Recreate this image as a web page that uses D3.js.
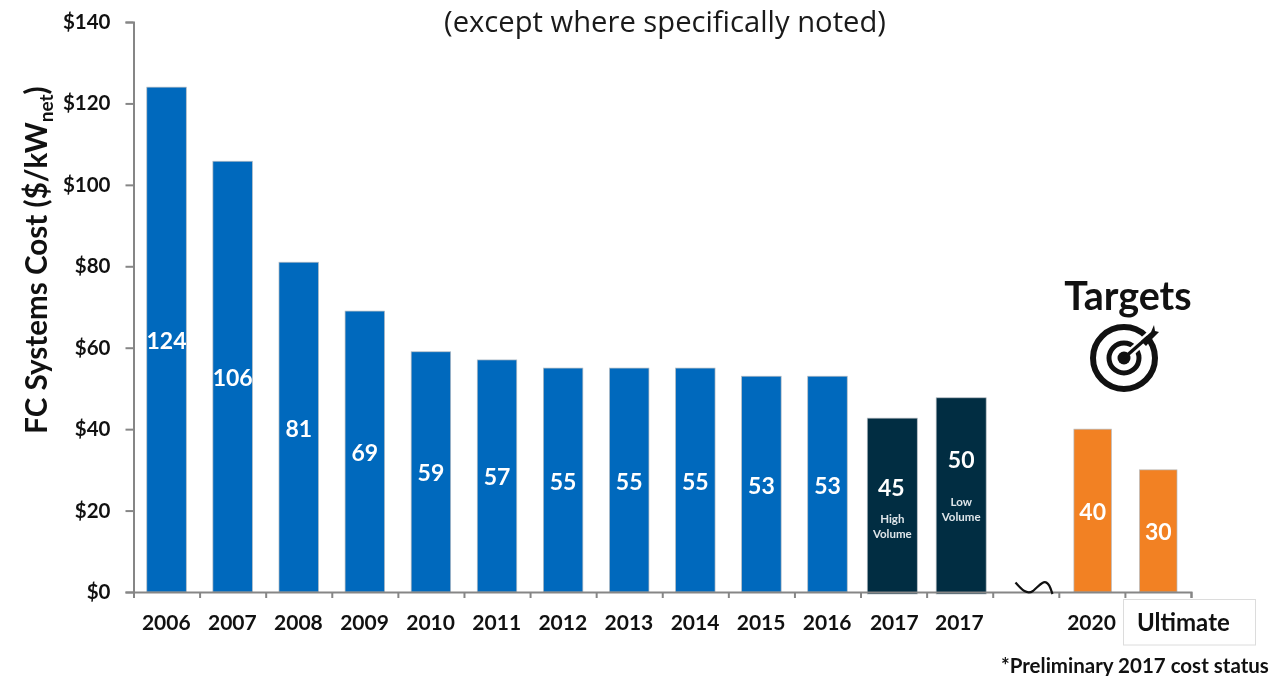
<!DOCTYPE html>
<html><head><meta charset="utf-8">
<script src="https://cdnjs.cloudflare.com/ajax/libs/d3/7.8.5/d3.min.js"></script>
<style>
html,body{margin:0;padding:0;background:#fff;overflow:hidden}
svg{display:block;filter:blur(0.45px)}
text{font-family:Lato,"Noto Sans",sans-serif}
</style></head><body><div id="c"></div>
<script>
const categories=["2006","2007","2008","2009","2010","2011","2012","2013","2014","2015","2016","2017","2017","","2020","Ultimate"];
const heights=[124,105.8,81,69,59,57,55,55,55,53,53,42.7,47.7,null,40,30];
const valueLabels=["124","106","81","69","59","57","55","55","55","53","53","45","50","","40","30"];
const kinds=["s","s","s","s","s","s","s","s","s","s","s","p","p","","t","t"];
const subLabels={11:["High","Volume"],12:["Low","Volume"]};
const yTicks=[0,20,40,60,80,100,120,140];
const colors={s:"#0069BD",p:"#012D42",t:"#F28123"};
const barWidths={s:39.5,p:50,t:37.5};
const labelLift={11:19,12:36};

const W=1286,H=676;
const svg=d3.select("#c").append("svg").attr("width",W).attr("height",H);
const y=d3.scaleLinear().domain([0,140]).range([592,22]);
const x=d3.scaleBand().domain(d3.range(categories.length)).range([133.5,1191]);
const xe=d3.scaleLinear().domain([0,categories.length]).range([133.5,1191]);
const idx=d3.range(categories.length).filter(i=>heights[i]!=null);
const shift={11:-1.3,12:1.5,14:0.8,15:0.3};
const cx=i=>x(i)+x.bandwidth()/2+(shift[i]||0);

svg.append("text").attr("x",665).attr("y",32).attr("text-anchor","middle")
 .style("font-family","'Open Sans'").attr("font-size",29.2).attr("fill","#1a1a1a").text("(except where specifically noted)");

svg.selectAll("rect.bar").data(idx).join("rect").attr("class","bar")
 .attr("x",i=>cx(i)-barWidths[kinds[i]]/2).attr("width",i=>barWidths[kinds[i]])
 .attr("y",i=>y(heights[i])).attr("height",i=>y(0)-y(heights[i])+(kinds[i]==="p"?2:0))
 .attr("fill",i=>colors[kinds[i]]).attr("stroke","#b5bcc2").attr("stroke-width",0.7);

// axes
const yAxis=d3.axisLeft(y).tickValues(yTicks).tickFormat(d=>"$"+d).tickSize(8).tickPadding(15);
const gy=svg.append("g").attr("transform","translate(133.5,0)").call(yAxis);
gy.selectAll("text").attr("font-size",20.5).attr("font-weight",700).attr("fill","#111");
const xAxis=d3.axisBottom(xe).tickValues(d3.range(categories.length+1)).tickFormat("").tickSize(6);
const gx=svg.append("g").attr("transform","translate(0,592)").call(xAxis);
[gy,gx].forEach(g=>{g.selectAll("path.domain").attr("stroke","#868686").attr("stroke-width",2);
 g.selectAll(".tick line").attr("stroke","#868686").attr("stroke-width",2);});

svg.selectAll("text.cat").data(idx.filter(i=>categories[i]!=="Ultimate")).join("text").attr("class","cat")
 .attr("x",i=>x(i)+x.bandwidth()/2-0.3+(i===11?1:0)).attr("y",630).attr("text-anchor","middle")
 .attr("font-size",21).attr("font-weight",700).attr("fill","#111").text(i=>categories[i]);

svg.selectAll("text.val").data(idx).join("text").attr("class","val")
 .attr("x",i=>cx(i)-(i===11?1:0)).attr("y",i=>(y(heights[i])+y(0))/2-(labelLift[i]||0)+9.5)
 .attr("text-anchor","middle").attr("font-size",23).attr("font-weight",700).attr("fill","#fff")
 .text(i=>valueLabels[i]);

Object.entries(subLabels).forEach(([k,l])=>{
 const i=+k, t0=i===11?523:506;
 l.forEach((s,j)=>svg.append("text").attr("x",cx(i)).attr("y",t0+j*15).attr("text-anchor","middle")
  .attr("font-size",11.5).attr("font-weight",700).attr("fill","#dfe6ea").text(s));
});

// y title
const yt=svg.append("text").attr("transform","translate(47,260) rotate(-90)").attr("text-anchor","middle")
 .attr("font-size",29.6).attr("font-weight",700).attr("fill","#111");
yt.append("tspan").text("FC Systems Cost ($/kW");
yt.append("tspan").attr("font-size",19).attr("dy",6).text("net");
yt.append("tspan").attr("dy",-6).text(")");

// axis break
svg.append("path").attr("d","M1015.5,582.5 C1022,590 1027,595 1033,591 C1039,586 1043,580 1047,583 C1050,585 1051,590 1052.5,594")
 .attr("fill","none").attr("stroke","#111").attr("stroke-width",2.2);

// Ultimate box
svg.append("rect").attr("x",1123.5).attr("y",599.5).attr("width",132).attr("height",45.5)
 .attr("fill","#fff").attr("stroke","#dcdcdc").attr("stroke-width",1);
svg.append("text").attr("x",1137).attr("y",631).attr("font-size",24).attr("font-weight",700).attr("fill","#111").text("Ultimate");

// footnote
svg.append("text").attr("x",1001).attr("y",673).attr("font-size",20.5).attr("font-weight",700).attr("fill","#111")
 .text("*Preliminary 2017 cost status");

// Targets + icon
svg.append("text").attr("x",1128).attr("y",310).attr("text-anchor","middle")
 .attr("font-size",39.5).attr("font-weight",700).attr("fill","#111").text("Targets");
const ic=svg.append("g").attr("transform","translate(1124,358)");
ic.append("circle").attr("r",31).attr("fill","none").attr("stroke","#111").attr("stroke-width",6);
ic.append("circle").attr("r",15).attr("fill","none").attr("stroke","#111").attr("stroke-width",5);
ic.append("circle").attr("r",6.5).attr("fill","#111");
ic.append("line").attr("x1",6).attr("y1",-5).attr("x2",28).attr("y2",-25).attr("stroke","#fff").attr("stroke-width",8);
ic.append("line").attr("x1",0).attr("y1",0).attr("x2",24).attr("y2",-21).attr("stroke","#111").attr("stroke-width",3.5);
ic.append("path").attr("d","M17,-17 L27,-26 L30,-33 L31,-27 L35,-26 L29,-20 L22,-12 Z").attr("fill","#111");
</script></body></html>
